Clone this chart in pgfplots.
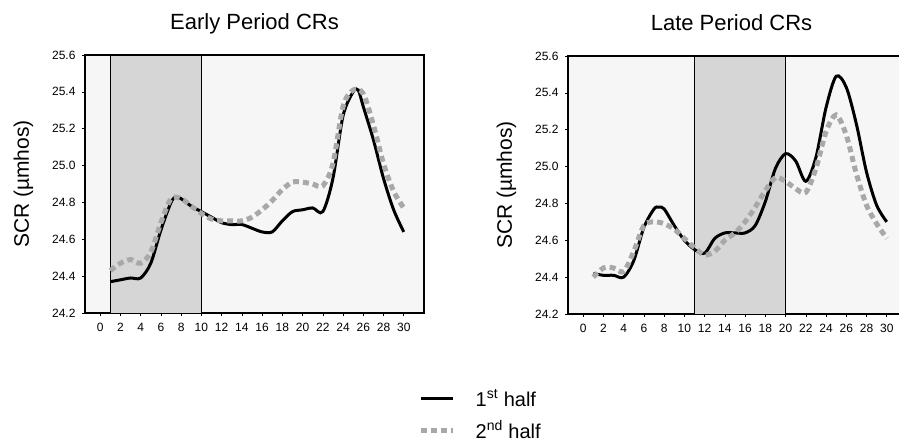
\documentclass[border=0pt]{standalone}
\usepackage{pgfplots}
\pgfplotsset{compat=1.18}
\usepackage{fontspec}
\setmainfont{Liberation Sans}
\definecolor{bgc}{HTML}{F6F6F6}
\definecolor{shade}{HTML}{D6D6D6}
\definecolor{sec}{HTML}{A8A8A8}
\pgfplotsset{
  scrstyle/.style={
    scale only axis, width=339pt, height=258pt,
    xmin=-1.5, xmax=32, ymin=24.2, ymax=25.6,
    xtick={0,2,...,30}, ytick={24.2,24.4,...,25.6},
    yticklabel style={xshift=-3pt, /pgf/number format/.cd,fixed,fixed zerofill,precision=1},
    /pgf/number format/assume math mode=true,
    tick pos=left, tick align=outside, major tick length=3pt,
    tick style={black, line width=0.6pt},
    ticklabel style={font=\fontsize{12}{14}\selectfont},
    xticklabel style={yshift=-4pt},
    axis line style={line width=1.8pt},
    axis background/.style={fill=bgc},
    title style={font=\fontsize{22}{26}\selectfont, anchor=base, yshift=19pt},
    ylabel style={font=\fontsize{21}{25}\selectfont, yshift=12pt},
    ylabel={SCR (\textmu mhos)},
    first/.style={black, line width=3pt, smooth, tension=0.5},
    second/.style={sec, line width=5pt, dash pattern=on 6pt off 4pt, smooth, tension=0.5},
  }
}
\begin{document}
\begin{tikzpicture}[x=1pt,y=1pt]
\begin{axis}[scrstyle, at={(85pt,129pt)}, anchor=south west,
  title={Early Period CRs},
  legend style={at={(axis description cs:0.975,-0.28)}, anchor=north west, draw=none, fill=none,
    font=\fontsize{20}{24}\selectfont, row sep=9pt, legend cell align=left},
  legend image code/.code={\draw[#1] (0pt,0pt) -- (32pt,0pt); \path (50pt,0pt);},
  ]
\addplot[fill=shade, draw=black, line width=1.4pt, forget plot] coordinates {(1,24.2) (1,25.6) (10,25.6) (10,24.2)};
\addplot[first] coordinates {(1,24.37) (2,24.38) (3,24.39) (4,24.39) (5,24.47) (6,24.65) (7,24.80) (7.5,24.83) (8,24.82) (9,24.78) (10,24.75) (11,24.72) (12,24.69) (13,24.68) (14,24.68) (15,24.66) (16,24.64) (17,24.64) (18,24.70) (19,24.75) (20,24.76) (21,24.77) (22,24.75) (23,24.93) (24,25.27) (25,25.40) (25.5,25.41) (26,25.32) (27,25.14) (28,24.93) (29,24.76) (30,24.64)};
\addlegendentry{1\textsuperscript{st} half}
\addplot[second] coordinates {(1,24.43) (2,24.47) (3,24.49) (4,24.47) (5,24.53) (6,24.69) (7,24.82) (8,24.82) (9,24.78) (10,24.74) (11,24.71) (12,24.70) (13,24.70) (14,24.70) (15,24.72) (16,24.76) (17,24.81) (18,24.87) (19,24.91) (20,24.91) (21,24.90) (22,24.89) (23,25.01) (24,25.32) (25,25.41) (26,25.39) (27,25.22) (28,25.01) (29,24.86) (30,24.77)};
\addlegendentry{2\textsuperscript{nd} half}
\end{axis}
\begin{axis}[scrstyle, at={(568pt,128pt)}, anchor=south west,
  title={Late Period CRs}, title style={xshift=-6pt}]
\addplot[fill=shade, draw=black, line width=1.4pt, forget plot] coordinates {(11,24.2) (11,25.6) (20,25.6) (20,24.2)};
\addplot[first] coordinates {(1,24.42) (2,24.41) (3,24.41) (4,24.40) (5,24.49) (6,24.67) (7,24.77) (7.5,24.78) (8,24.77) (9,24.68) (10,24.60) (11,24.55) (12,24.53) (13,24.61) (14,24.64) (15,24.64) (16,24.64) (17,24.68) (18,24.81) (19,24.99) (20,25.07) (21,25.03) (22,24.92) (23,25.05) (24,25.32) (25,25.49) (26,25.43) (27,25.23) (28,24.97) (29,24.79) (30,24.70)};
\addplot[second] coordinates {(1,24.40) (2,24.45) (3,24.45) (4,24.43) (5,24.54) (6,24.68) (7,24.70) (8,24.69) (9,24.66) (10,24.61) (11,24.56) (12,24.52) (13,24.54) (14,24.60) (15,24.64) (16,24.70) (17,24.78) (18,24.87) (19,24.94) (20,24.92) (21,24.88) (22,24.86) (23,24.99) (24,25.19) (25,25.28) (26,25.17) (27,24.96) (28,24.79) (29,24.69) (30,24.61)};
\end{axis}
\pgfresetboundingbox
\path[use as bounding box] (0pt,0pt) rectangle (899pt,442pt);
\end{tikzpicture}
\end{document}
